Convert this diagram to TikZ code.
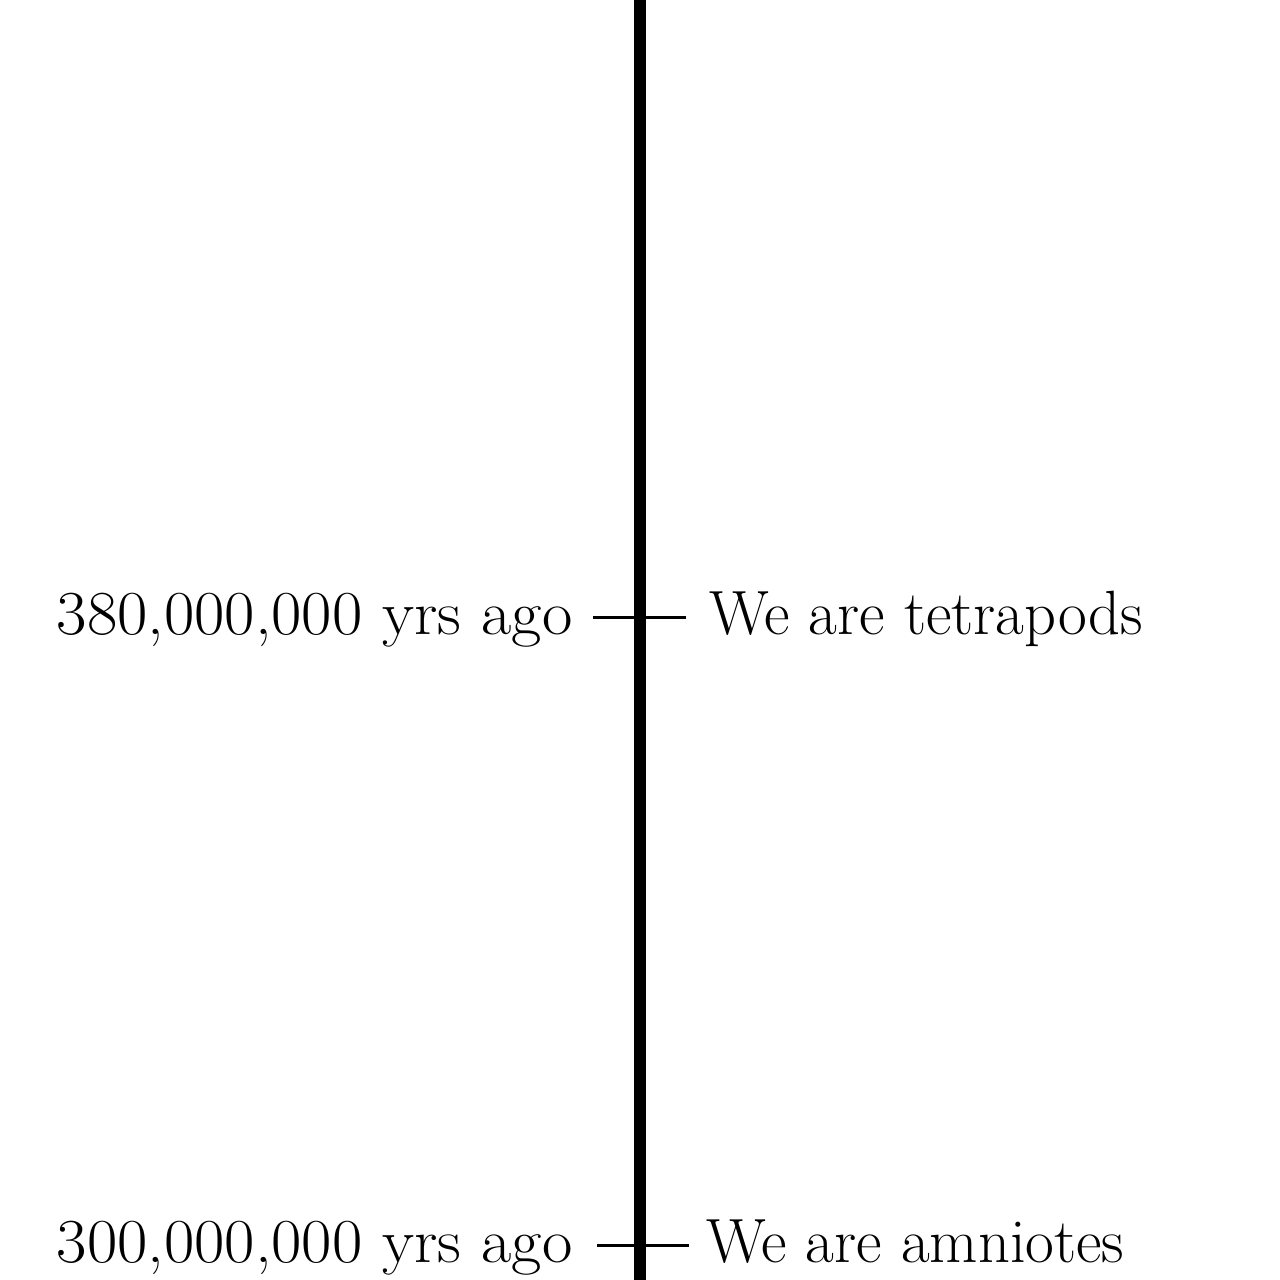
\documentclass[tikz,border=0pt]{standalone}
\usepackage{tikz}
\usepackage{graphicx}
\usetikzlibrary{positioning,calc}
\newcommand{\widedate}[1]{\scalebox{1.055}[1]{#1}}
\tikzset{
    timeaxis/.style={
        line width=0.12cm,
        black
    },
    tickmark/.style={
        line width=0.03cm,
        black
    },
    datelabel/.style={
        anchor=base east,
        inner sep=0pt,
        font=\fontsize{17.8}{20}\selectfont
    },
    eventlabel/.style={
        anchor=base west,
        inner sep=0pt,
        font=\fontsize{17.8}{20}\selectfont
    }
}
\begin{document}
\begin{tikzpicture}
\useasboundingbox (0,0) rectangle (12.8,12.8);
% Axis
\coordinate (axis-top) at (6.40,12.8);
\coordinate (axis-bottom) at (6.40,0);
\draw[timeaxis] (axis-top) -- (axis-bottom);

% Tetrapods
\coordinate (tetra-l) at (5.93,6.62);
\coordinate (tetra-r) at (6.86,6.62);
\draw[tickmark] (tetra-l) -- (tetra-r);
\node[datelabel] (tetra-date) at (5.73,6.45) {\widedate{380,000,000 yrs ago}};
\node[eventlabel] (tetra-event) at (7.09,6.45) {We are tetrapods};

% Amniotes
\coordinate (amnio-l) at (5.97,0.34);
\coordinate (amnio-r) at (6.89,0.34);
\draw[tickmark] (amnio-l) -- (amnio-r);
\node[datelabel] (amnio-date) at (5.73,0.17) {\widedate{300,000,000 yrs ago}};
\node[eventlabel] (amnio-event) at (7.06,0.17) {We are amniotes};
\end{tikzpicture}
\end{document}
